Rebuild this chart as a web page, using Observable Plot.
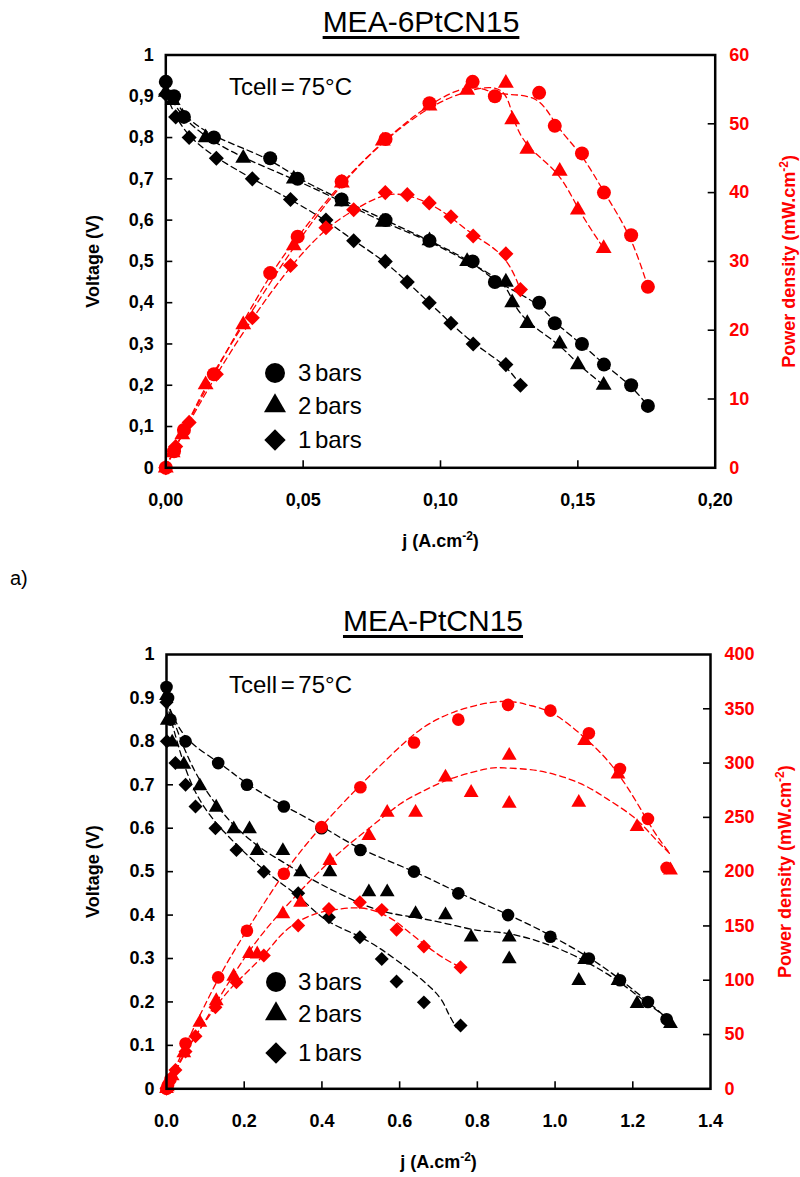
<!DOCTYPE html>
<html><head><meta charset="utf-8">
<script src="https://cdn.jsdelivr.net/npm/d3@7"></script>
<script src="https://cdn.jsdelivr.net/npm/@observablehq/plot@0.6"></script>
<style>
body{margin:0;background:#fff;}
#wrap{position:relative;width:800px;height:1177px;overflow:hidden;background:#fff;font-family:"Liberation Sans",Arial,sans-serif;color:#000;}
.abs{position:absolute;white-space:nowrap;line-height:1;}
.title{font-size:30px;text-decoration:underline;text-decoration-thickness:3px;text-underline-offset:4px;transform:translate(-50%,-50%);}
.tcell{font-size:24px;word-spacing:-3px;transform:translateY(-50%);}
.leg{font-size:24px;word-spacing:-3px;transform:translateY(-50%);}
.legsym{position:absolute;transform:translate(-50%,-50%);}
svg.plotsvg{position:absolute;left:0;}
</style></head>
<body><div id="wrap"></div>
<script>
// ================= DATA =================
// ---- Panel a : MEA-6PtCN15 ----
const a3_j = [0.000, 0.003, 0.0066, 0.0175, 0.038, 0.048, 0.064, 0.080, 0.096, 0.1117, 0.1198, 0.1359, 0.1416, 0.1515, 0.1595, 0.1694, 0.1755];
const a3_V = [0.935, 0.90, 0.85, 0.80, 0.75, 0.70, 0.65, 0.60, 0.55, 0.50, 0.45, 0.40, 0.35, 0.30, 0.25, 0.20, 0.15];
const a3_P = [0.0, 2.4, 5.5, 13.6, 28.3, 33.6, 41.6, 47.8, 53.0, 56.1, 54.0, 54.5, 49.7, 45.7, 40.0, 33.8, 26.3];

const a2_j = [0.000, 0.0025, 0.006, 0.0145, 0.0282, 0.0466, 0.0641, 0.079, 0.096, 0.1097, 0.1238, 0.1261, 0.1316, 0.1434, 0.150, 0.1594];
const a2_V = [0.91, 0.89, 0.85, 0.80, 0.75, 0.70, 0.645, 0.595, 0.55, 0.50, 0.45, 0.40, 0.35, 0.30, 0.25, 0.20];
const a2_P = [0.0, 2.2, 4.8, 12.1, 20.8, 32.3, 41.4, 47.5, 52.6, 54.9, 55.9, 50.6, 46.3, 43.1, 37.5, 31.9];

const a1_j = [0.000, 0.0036, 0.0085, 0.0184, 0.0315, 0.0454, 0.0583, 0.0684, 0.0799, 0.0879, 0.0959, 0.1038, 0.1119, 0.1238, 0.1291];
const a1_V = [0.905, 0.85, 0.80, 0.75, 0.70, 0.65, 0.60, 0.55, 0.50, 0.45, 0.40, 0.35, 0.30, 0.25, 0.20];
const a1_P = [0.0, 3.1, 6.6, 13.6, 21.8, 29.4, 34.9, 37.5, 40.0, 39.7, 38.5, 36.5, 33.7, 31.1, 25.9];

// ---- Panel b : MEA-PtCN15 ----
const b3_j = [0.000, 0.004, 0.0103, 0.049, 0.133, 0.207, 0.302, 0.399, 0.499, 0.637, 0.751, 0.879, 0.988, 1.087, 1.167, 1.239, 1.287];
const b3_V = [0.925, 0.90, 0.85, 0.80, 0.75, 0.70, 0.65, 0.60, 0.55, 0.50, 0.45, 0.40, 0.35, 0.30, 0.25, 0.20, 0.16];
const b3_P = [0, 3.6, 8.8, 41.7, 102.6, 145.5, 198, 241, 277.7, 319, 340, 353.6, 348.3, 327.5, 294.6, 248.6, 203.5];

const b2_j = [0.000, 0.002, 0.0146, 0.0446, 0.0858, 0.128, 0.173, 0.2136, 0.2334, 0.2995, 0.345, 0.4205, 0.5208, 0.568, 0.641, 0.718, 0.784, 0.882, 0.882, 1.061, 1.076, 1.162, 1.211, 1.297];
const b2_V = [0.905, 0.848, 0.798, 0.747, 0.697, 0.648, 0.598, 0.598, 0.548, 0.548, 0.499, 0.499, 0.453, 0.453, 0.403, 0.40, 0.349, 0.349, 0.299, 0.249, 0.297, 0.249, 0.196, 0.15];
const b2_P = [0, 1.7, 11.7, 33, 61, 81, 103.5, 124.3, 124, 161, 171.6, 210, 233, 254.4, 254.4, 287, 272.8, 306.9, 262.7, 263.6, 320.7, 289.8, 241.3, 201.4];

const b1_j = [0.000, 0.001, 0.023, 0.049, 0.0746, 0.126, 0.180, 0.2505, 0.339, 0.418, 0.4976, 0.554, 0.592, 0.6624, 0.7568];
const b1_V = [0.89, 0.80, 0.75, 0.70, 0.65, 0.60, 0.55, 0.50, 0.45, 0.395, 0.349, 0.299, 0.247, 0.199, 0.146];
const b1_P = [0, 0.8, 17.3, 34.3, 48.4, 75, 98.2, 122.7, 150.4, 165.7, 171.8, 164.8, 146.4, 131, 112];

// ---- Panel b : dashed trend curves ----
const fb3V_j = [0, 0.05, 0.133, 0.207, 0.302, 0.4, 0.5, 0.637, 0.751, 0.879, 0.988, 1.087, 1.167, 1.239, 1.297];
const fb3V_v = [0.895, 0.81, 0.752, 0.703, 0.652, 0.604, 0.553, 0.50, 0.452, 0.401, 0.353, 0.302, 0.252, 0.20, 0.155];
const fb2V_j = [0, 0.05, 0.1, 0.15, 0.2, 0.25, 0.3, 0.379, 0.465, 0.551, 0.637, 0.722, 0.808, 0.882, 0.988, 1.083, 1.16, 1.229, 1.297];
const fb2V_v = [0.895, 0.775, 0.69, 0.63, 0.585, 0.55, 0.522, 0.48, 0.441, 0.41, 0.395, 0.38, 0.364, 0.357, 0.33, 0.291, 0.249, 0.203, 0.157];
const fb1V_j = [0, 0.05, 0.1, 0.15, 0.2, 0.25, 0.3, 0.35, 0.414, 0.5, 0.594, 0.688, 0.722, 0.745];
const fb1V_v = [0.89, 0.735, 0.645, 0.59, 0.545, 0.505, 0.47, 0.435, 0.387, 0.349, 0.295, 0.226, 0.18, 0.142];
const fb3P_j = [0, 0.049, 0.133, 0.207, 0.302, 0.4, 0.5, 0.58, 0.654, 0.74, 0.838, 0.9, 0.937, 0.997, 1.074, 1.143, 1.203, 1.253, 1.297];
const fb3P_p = [0, 40, 101, 146, 198, 242, 280, 308, 331, 347, 356, 356, 353, 345, 324, 299, 268, 238, 216];
const fb2P_j = [0, 0.05, 0.1, 0.2, 0.3, 0.422, 0.525, 0.6, 0.654, 0.731, 0.825, 0.87, 0.963, 1.066, 1.134, 1.203, 1.253, 1.297];
const fb2P_p = [0, 34, 63, 120, 165, 210, 241, 262, 273, 285.5, 294.7, 295.5, 292.5, 281, 267, 250, 232, 216];
const fb1P_j = [0, 0.05, 0.126, 0.18, 0.25, 0.302, 0.371, 0.448, 0.517, 0.577, 0.619, 0.697, 0.757];
const fb1P_p = [0, 35, 75, 98, 123, 144, 159.6, 165.7, 165.7, 157, 145.8, 124.3, 112];

// ---- ticks / labels ----
const xTicksA = [0, 0.05, 0.10, 0.15, 0.20];
const xLabelsA = ["0,00", "0,05", "0,10", "0,15", "0,20"];
const xTicksB = [0, 0.2, 0.4, 0.6, 0.8, 1.0, 1.2, 1.4];
const xLabelsB = ["0.0", "0.2", "0.4", "0.6", "0.8", "1.0", "1.2", "1.4"];
const vTicks = [0, 0.1, 0.2, 0.3, 0.4, 0.5, 0.6, 0.7, 0.8, 0.9, 1.0];
const vLabelsA = ["0", "0,1", "0,2", "0,3", "0,4", "0,5", "0,6", "0,7", "0,8", "0,9", "1"];
const vLabelsB = ["0", "0.1", "0.2", "0.3", "0.4", "0.5", "0.6", "0.7", "0.8", "0.9", "1"];
const pTicksA = [0, 10, 20, 30, 40, 50, 60];
const pTicksB = [0, 50, 100, 150, 200, 250, 300, 350, 400];
const seriesNames = ["3 bars", "2 bars", "1 bars"];
const titles = ["MEA-6PtCN15", "MEA-PtCN15"];
const tcellText = "Tcell = 75°C";

// ================= helpers =================
const FONT = '"Liberation Sans", Arial, sans-serif';
const rows = (j, V, P) => j.map((d, i) => ({j: d, V: V[i], P: P[i]}));
const frows = (j, v) => j.map((d, i) => ({j: d, v: v[i]}));
const lookup = (ticks, labels) => d => { const i = ticks.findIndex(t => Math.abs(t - d) < 1e-9); return i < 0 ? "" : labels[i]; };

function panel(cfg) {
  const W = 800, H = cfg.height;
  const plotH = H - cfg.mt - cfg.mb, plotW = W - cfg.ml - cfg.mr;
  const pmax = cfg.pmax;
  const dash = {strokeDasharray: "6,4", strokeWidth: 1.3};
  const marks = [];
  for (const L of cfg.vLines) marks.push(Plot.line(L.data, {x: "j", y: L.y, curve: L.curve, stroke: "black", ...dash}));
  for (const L of cfg.pLines) marks.push(Plot.line(L.data, {x: "j", y: d => L.p(d) / pmax, curve: L.curve, stroke: "red", ...dash}));
  for (const S of cfg.series) marks.push(Plot.dot(S.data, {x: "j", y: "V", symbol: S.symbol, r: S.r, fill: "black", stroke: "none"}));
  for (const S of cfg.series) marks.push(Plot.dot(S.data, {x: "j", y: d => d.P / pmax, symbol: S.symbol, r: S.r, fill: "red", stroke: "none"}));
  marks.push(Plot.tickX(cfg.xTicks.slice(1, -1), {x: d => d, insetTop: plotH - 7, stroke: "black", strokeWidth: 1.6}));
  marks.push(Plot.tickY(vTicks.slice(1, -1), {y: d => d, insetRight: plotW - 7, stroke: "black", strokeWidth: 1.6}));
  marks.push(Plot.tickY(cfg.pTicks.slice(1, -1).map(p => p / pmax), {y: d => d, insetLeft: plotW - 7, stroke: "black", strokeWidth: 1.6}));
  marks.push(Plot.axisX(cfg.xTicks, {tickSize: 0, tickPadding: 25, tickFormat: lookup(cfg.xTicks, cfg.xLabels),
    label: "j (A.cm-2)", labelAnchor: "center", labelOffset: 79, labelArrow: false}));
  marks.push(Plot.axisY(vTicks, {anchor: "left", tickSize: 0, tickPadding: 12, tickFormat: lookup(vTicks, cfg.vLabels),
    label: "Voltage (V)", labelAnchor: "center", labelOffset: 80, labelArrow: false}));
  const pt = cfg.pTicks.map(p => p / pmax);
  marks.push(Plot.axisY(pt, {anchor: "right", tickSize: 0, tickPadding: 14, color: "red",
    tickFormat: lookup(pt, cfg.pTicks.map(String)),
    label: "Power density (mW.cm-2)", labelAnchor: "center", labelOffset: 80, labelArrow: false}));
  marks.push(Plot.frame({stroke: "black", strokeWidth: 2.5}));
  const svg = Plot.plot({
    width: W, height: H,
    marginTop: cfg.mt, marginBottom: cfg.mb, marginLeft: cfg.ml, marginRight: cfg.mr,
    style: {fontFamily: FONT, fontSize: "18px", fontWeight: "bold", color: "black", background: "transparent", overflow: "visible"},
    x: {domain: cfg.xDomain},
    y: {domain: [0, 1]},
    marks
  });
  svg.classList.add("plotsvg");
  svg.style.top = cfg.top + "px";
  d3.select(svg).selectAll("text").each(function () {
    let t = this.textContent;
    if (/[→↑←↓]/.test(t)) { t = t.replace(/\s*[→↑←↓]\s*/g, ""); d3.select(this).text(t); }
    if (t.includes("cm-2")) {
      const [pre, post] = t.split("cm-2");
      const s = d3.select(this);
      s.text(null);
      s.append("tspan").text(pre + "cm");
      s.append("tspan").attr("dy", "-7").attr("font-size", "12px").text("-2");
      s.append("tspan").attr("dy", "7").text(post);
    }
  });
  return svg;
}

const wrap = document.getElementById("wrap");

function addDiv(cls, text, left, top) {
  const d = document.createElement("div");
  d.className = "abs " + cls;
  d.textContent = text;
  d.style.left = left + "px";
  d.style.top = top + "px";
  wrap.appendChild(d);
  return d;
}
function addSym(symType, size, cx, cy) {
  const s = 30;
  const svg = d3.create("svg").attr("width", s).attr("height", s).attr("class", "legsym")
    .style("left", cx + "px").style("top", cy + "px");
  svg.append("path").attr("transform", `translate(${s / 2},${s / 2})`)
    .attr("d", d3.symbol(symType, size)()).attr("fill", "black");
  wrap.appendChild(svg.node());
}
function legend(x, ys, textX) {
  const types = [[d3.symbolCircle, 314], [d3.symbolTriangle, 210], [d3.symbolDiamond2, 290]];
  seriesNames.forEach((n, i) => {
    addSym(types[i][0], types[i][1], x, ys[i]);
    addDiv("leg", n, textX, ys[i]);
  });
}

// ---------- Panel a ----------
const A3 = rows(a3_j, a3_V, a3_P), A2 = rows(a2_j, a2_V, a2_P), A1 = rows(a1_j, a1_V, a1_P);
wrap.appendChild(panel({
  top: 0, height: 560, mt: 54.5, mb: 92.7, ml: 165.3, mr: 85.3,
  xDomain: [0, 0.2], xTicks: xTicksA, xLabels: xLabelsA, vLabels: vLabelsA, pTicks: pTicksA, pmax: 60,
  vLines: [{data: A3, y: "V", curve: "basis"}, {data: A2, y: "V", curve: "basis"}, {data: A1, y: "V", curve: "basis"}],
  pLines: [{data: A3, p: d => d.P, curve: "basis"}, {data: A2, p: d => d.P, curve: "basis"}, {data: A1, p: d => d.P, curve: "basis"}],
  series: [{data: A1, symbol: "diamond2", r: 6.8}, {data: A2, symbol: "triangle", r: 5.9}, {data: A3, symbol: "circle", r: 7}]
}));

// ---------- Panel b ----------
const B3 = rows(b3_j, b3_V, b3_P), B2 = rows(b2_j, b2_V, b2_P), B1 = rows(b1_j, b1_V, b1_P);
wrap.appendChild(panel({
  top: 600, height: 577, mt: 54, mb: 88.7, ml: 166, mr: 90,
  xDomain: [0, 1.4], xTicks: xTicksB, xLabels: xLabelsB, vLabels: vLabelsB, pTicks: pTicksB, pmax: 400,
  vLines: [{data: frows(fb3V_j, fb3V_v), y: "v", curve: "natural"}, {data: frows(fb2V_j, fb2V_v), y: "v", curve: "natural"}, {data: frows(fb1V_j, fb1V_v), y: "v", curve: "natural"}],
  pLines: [{data: frows(fb3P_j, fb3P_p), p: d => d.v, curve: "natural"}, {data: frows(fb2P_j, fb2P_p), p: d => d.v, curve: "natural"}, {data: frows(fb1P_j, fb1P_p), p: d => d.v, curve: "natural"}],
  series: [{data: B1, symbol: "diamond2", r: 6.3}, {data: B2, symbol: "triangle", r: 5.5}, {data: B3, symbol: "circle", r: 6.3}]
}));

// ---------- texts and legends ----------
addDiv("title", titles[0], 421, 22);
addDiv("title", titles[1], 433, 621);
addDiv("tcell", tcellText, 229, 87);
addDiv("tcell", tcellText, 229, 685);
addDiv("", "a)", 10, 568).style.fontSize = "20px";
legend(275, [373, 406, 440], 298);
legend(276, [982, 1014, 1053], 298);
</script></body></html>
